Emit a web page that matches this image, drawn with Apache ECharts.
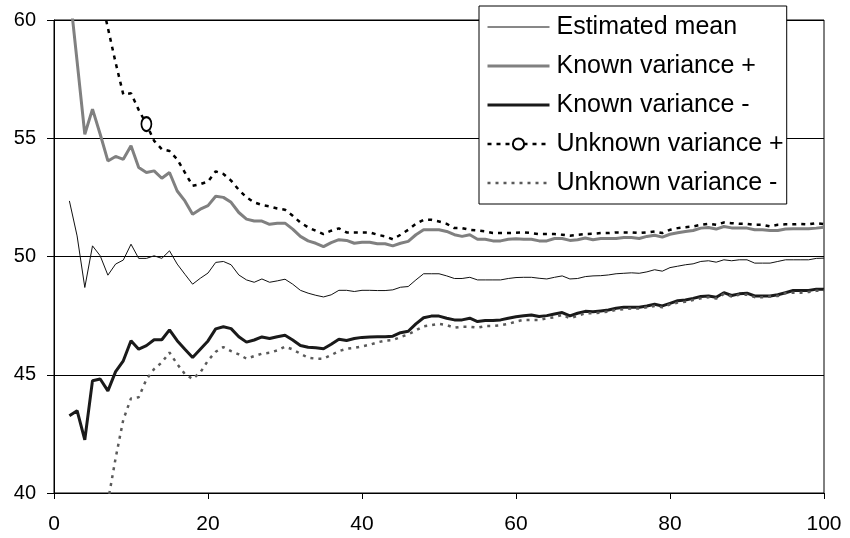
<!DOCTYPE html>
<html>
<head>
<meta charset="utf-8">
<script src="https://cdn.jsdelivr.net/npm/echarts@6/dist/echarts.min.js"></script>
<style>
html,body{margin:0;padding:0;background:#fff;}
#chart{width:850px;height:538px;}
</style>
</head>
<body>
<div id="chart"></div>
<script>
var xValues = [2,3,4,5,6,7,8,9,10,11,12,13,14,15,16,17,18,19,20,21,22,23,24,25,26,27,28,29,30,31,32,33,34,35,36,37,38,39,40,41,42,43,44,45,46,47,48,49,50,51,52,53,54,55,56,57,58,59,60,61,62,63,64,65,66,67,68,69,70,71,72,73,74,75,76,77,78,79,80,81,82,83,84,85,86,87,88,89,90,91,92,93,94,95,96,97,98,99,100];

var estimatedMean = [52.35,50.87,48.69,50.45,50.03,49.21,49.68,49.85,50.52,49.92,49.92,50.03,49.92,50.24,49.68,49.25,48.83,49.08,49.3,49.75,49.79,49.65,49.22,49.01,48.91,49.05,48.91,48.97,49.04,48.83,48.57,48.45,48.36,48.29,48.38,48.57,48.57,48.52,48.57,48.57,48.56,48.56,48.59,48.7,48.73,49.01,49.27,49.27,49.27,49.18,49.07,49.07,49.12,49.01,49.01,49.01,49.01,49.07,49.11,49.12,49.12,49.08,49.05,49.12,49.18,49.05,49.07,49.15,49.18,49.19,49.22,49.27,49.29,49.31,49.29,49.35,49.44,49.38,49.53,49.59,49.65,49.69,49.79,49.82,49.76,49.86,49.82,49.86,49.86,49.72,49.72,49.72,49.79,49.86,49.86,49.86,49.86,49.92,49.93];

var knownPlus = [61.3,58.25,55.17,56.23,55.17,54.04,54.23,54.11,54.68,53.76,53.55,53.62,53.31,53.55,52.77,52.35,51.79,52.0,52.15,52.55,52.5,52.29,51.86,51.58,51.5,51.5,51.36,51.41,51.41,51.16,50.85,50.66,50.56,50.42,50.59,50.71,50.68,50.56,50.6,50.6,50.54,50.54,50.45,50.56,50.64,50.92,51.13,51.13,51.13,51.06,50.92,50.85,50.92,50.73,50.73,50.66,50.66,50.73,50.75,50.73,50.73,50.66,50.66,50.76,50.76,50.68,50.71,50.78,50.71,50.76,50.76,50.76,50.8,50.8,50.76,50.85,50.9,50.82,50.94,51.0,51.06,51.1,51.2,51.23,51.16,51.27,51.21,51.2,51.2,51.13,51.13,51.1,51.1,51.16,51.17,51.17,51.17,51.2,51.24];

var knownMinus = [43.27,43.48,42.25,44.75,44.82,44.32,45.13,45.59,46.44,46.08,46.23,46.48,46.48,46.9,46.44,46.08,45.73,46.08,46.43,46.94,47.03,46.95,46.61,46.38,46.47,46.6,46.53,46.61,46.67,46.47,46.24,46.16,46.14,46.1,46.29,46.5,46.45,46.53,46.58,46.6,46.61,46.61,46.63,46.78,46.84,47.15,47.41,47.48,47.48,47.39,47.32,47.32,47.39,47.25,47.29,47.29,47.32,47.39,47.45,47.49,47.53,47.46,47.5,47.57,47.63,47.49,47.6,47.68,47.66,47.7,47.74,47.81,47.85,47.85,47.85,47.91,47.98,47.91,48.02,48.13,48.16,48.23,48.31,48.33,48.28,48.47,48.35,48.42,48.45,48.33,48.33,48.33,48.38,48.47,48.56,48.56,48.56,48.62,48.62];

var unknownPlus = [null,null,null,null,61.1,59.66,58.2,56.85,56.9,56.2,55.6,54.89,54.54,54.46,54.11,53.55,52.99,53.06,53.17,53.6,53.49,53.21,52.82,52.5,52.29,52.18,52.12,52.03,51.98,51.72,51.44,51.23,51.09,50.95,51.09,51.19,51.02,51.02,51.02,51.02,50.92,50.85,50.73,50.92,51.13,51.38,51.55,51.55,51.48,51.38,51.2,51.2,51.13,51.1,51.06,50.99,50.99,50.99,51.0,51.02,50.99,50.95,50.95,50.95,50.92,50.88,50.92,50.95,50.96,50.99,50.99,51.02,51.02,51.02,50.99,51.02,51.06,50.99,51.13,51.2,51.24,51.27,51.34,51.38,51.34,51.44,51.41,51.38,51.38,51.34,51.34,51.27,51.34,51.36,51.36,51.38,51.36,51.41,51.37];

var unknownMinus = [null,null,null,null,null,39.63,41.47,43.1,44.0,44.05,44.8,45.24,45.52,45.94,45.45,45.03,44.82,45.1,45.6,45.97,46.17,46.0,45.86,45.68,45.79,45.89,45.93,46.03,46.19,46.07,45.89,45.72,45.68,45.68,45.83,46.0,46.1,46.14,46.2,46.27,46.37,46.44,46.46,46.6,46.7,46.88,47.05,47.1,47.15,47.1,46.99,47.03,47.03,46.99,47.06,47.06,47.09,47.15,47.25,47.32,47.32,47.32,47.39,47.43,47.53,47.39,47.49,47.6,47.6,47.63,47.67,47.74,47.77,47.8,47.8,47.85,47.91,47.85,47.97,48.05,48.09,48.16,48.23,48.28,48.22,48.42,48.31,48.38,48.38,48.28,48.28,48.31,48.33,48.45,48.47,48.47,48.5,48.55,48.56];

var seriesNames = ['Estimated mean','Known variance +','Known variance -','Unknown variance +','Unknown variance -'];
var markerX = 12;

function pairs(vals) {
  return xValues.map(function (x, i) { return [x, vals[i]]; });
}
function pairsWithMarker(vals) {
  return xValues.map(function (x, i) {
    if (x === markerX) return [x, vals[i]];
    return { value: [x, vals[i]], symbol: 'none' };
  });
}

var FONT = '"Liberation Sans", Arial, sans-serif';
var chart = echarts.init(document.getElementById('chart'), null, { renderer: 'canvas' });
chart.setOption({
  animation: false,
  backgroundColor: '#fff',
  grid: { left: 54, right: 26, top: 20, bottom: 45, show: true, borderColor: '#000', borderWidth: 1 },
  legend: {
    orient: 'vertical',
    left: 479, top: 6,
    backgroundColor: '#fff',
    borderColor: '#000', borderWidth: 1,
    padding: [8, 3, 8, 7],
    itemWidth: 62, itemHeight: 14, itemGap: 13,
    selectedMode: false,
    itemStyle: { opacity: 0 },
    textStyle: { fontFamily: FONT, fontSize: 25, color: '#000', lineHeight: 26, padding: [0,0,0,2] },
    data: [
      { name: seriesNames[0], lineStyle: { width: 1 } },
      { name: seriesNames[1], lineStyle: { width: 3 } },
      { name: seriesNames[2], lineStyle: { width: 3 } },
      { name: seriesNames[3], lineStyle: { width: 2.5 }, itemStyle: { opacity: 1, color: '#000' } },
      { name: seriesNames[4], lineStyle: { width: 2.5 } }
    ]
  },
  xAxis: {
    type: 'value', min: 0, max: 100, interval: 20,
    axisLine: { show: true, lineStyle: { color: '#000', width: 1 } },
    axisTick: { show: true, length: 6, lineStyle: { color: '#000' } },
    axisLabel: { fontFamily: FONT, fontSize: 21, color: '#000', margin: 21 },
    splitLine: { show: false }
  },
  yAxis: {
    type: 'value', min: 40, max: 60, interval: 5,
    axisLine: { show: true, lineStyle: { color: '#000', width: 1 } },
    axisTick: { show: true, length: 7, lineStyle: { color: '#000' } },
    axisLabel: { fontFamily: FONT, fontSize: 20, color: '#000', margin: 18 },
    splitLine: { show: true, lineStyle: { color: '#000', width: 1 } }
  },
  series: [
    { name: seriesNames[0], type: 'line', data: pairs(estimatedMean), symbol: 'none',
      lineStyle: { color: '#111', width: 1 }, itemStyle: { color: '#111' } },
    { name: seriesNames[1], type: 'line', data: pairs(knownPlus), symbol: 'none',
      lineStyle: { color: '#808080', width: 3 }, itemStyle: { color: '#808080' } },
    { name: seriesNames[2], type: 'line', data: pairs(knownMinus), symbol: 'none',
      lineStyle: { color: '#1a1a1a', width: 3 }, itemStyle: { color: '#1a1a1a' } },
    { name: seriesNames[3], type: 'line', data: pairsWithMarker(unknownPlus),
      symbol: 'emptyCircle', symbolSize: [10, 14], showSymbol: true, showAllSymbol: true, connectNulls: false,
      lineStyle: { color: '#000', width: 2.5, type: [4, 5] },
      itemStyle: { color: '#000', borderColor: '#000', borderWidth: 3 } },
    { name: seriesNames[4], type: 'line', data: pairs(unknownMinus), symbol: 'none',
      lineStyle: { color: '#5a5a5a', width: 2.5, type: [3, 5] }, itemStyle: { color: '#5a5a5a' } }
  ]
});
</script>
</body>
</html>
